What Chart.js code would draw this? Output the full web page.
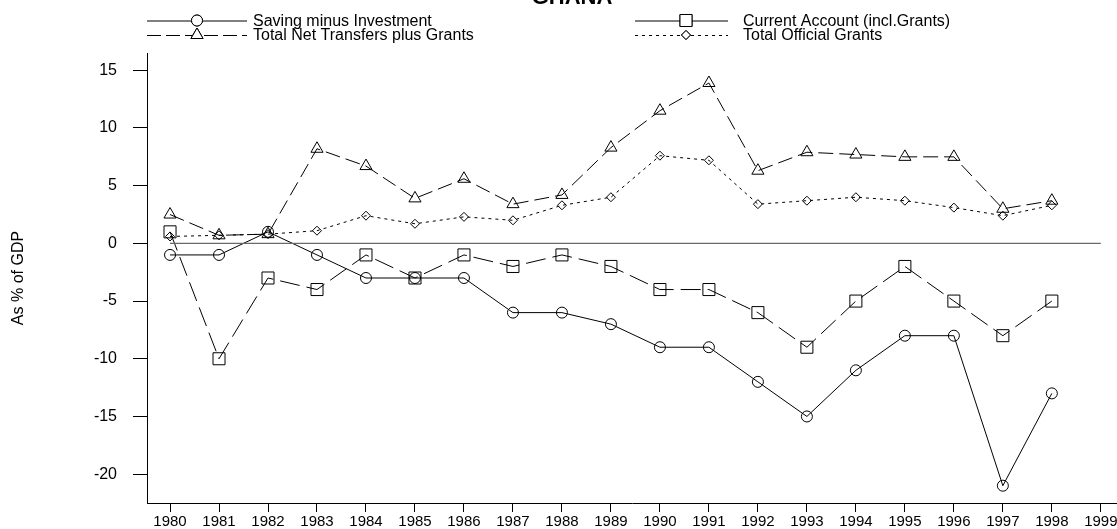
<!DOCTYPE html>
<html>
<head>
<meta charset="utf-8">
<script src="https://cdn.jsdelivr.net/npm/chart.js@4.4.1/dist/chart.umd.min.js"></script>
<style>
    html, body { margin: 0; padding: 0; background: #fff; }
    #wrap { width: 1117px; height: 529px; }
</style>
</head>
<body>
<div id="wrap"><canvas id="ghanaChart" width="1117" height="529"></canvas></div>
<script>
// Data (as % of GDP)
const years = [1980, 1981, 1982, 1983, 1984, 1985, 1986, 1987, 1988, 1989,
               1990, 1991, 1992, 1993, 1994, 1995, 1996, 1997, 1998];
const savingMinusInvestment = [-1, -1, 1, -1, -3, -3, -3, -6, -6, -7, -9, -9, -12, -15, -11, -8, -8, -21, -13];
const currentAccount = [1, -10, -3, -4, -1, -3, -1, -2, -1, -2, -4, -4, -6, -9, -5, -2, -5, -8, -5];
const netTransfersPlusGrants = [2.5, 0.7, 0.8, 8.2, 6.7, 3.9, 5.6, 3.4, 4.2, 8.3, 11.5, 13.9, 6.3, 7.9, 7.7, 7.5, 7.5, 3.0, 3.7];
const officialGrants = [0.6, 0.7, 0.8, 1.1, 2.4, 1.7, 2.3, 2.0, 3.3, 4.0, 7.6, 7.2, 3.4, 3.7, 4.0, 3.7, 3.1, 2.4, 3.3];

// reference line at zero runs across all labelled years
const zeroLineYears = [1980, 1999];
const zeroLineValues = [0, 0];

const xTickYears = [1980, 1981, 1982, 1983, 1984, 1985, 1986, 1987, 1988, 1989,
                    1990, 1991, 1992, 1993, 1994, 1995, 1996, 1997, 1998, 1999];
const yTickValues = [-20, -15, -10, -5, 0, 5, 10, 15];

const FONT = '"Liberation Sans", Arial, Helvetica, sans-serif';
Chart.defaults.font.family = FONT;
Chart.defaults.color = '#000';

function toPoints(xs, ys) {
    return xs.map((x, i) => ({ x: x, y: ys[i] }));
}

function seriesStyle(label, values, style) {
    return Object.assign({
        label: label,
        data: toPoints(years, values),
        borderColor: '#000',
        borderWidth: 1,
        pointBorderColor: '#000',
        pointBackgroundColor: 'rgba(0,0,0,0)',
        pointBorderWidth: 1,
        tension: 0,
        fill: false
    }, style);
}

const datasets = [
    {
        label: 'zero',
        data: toPoints(zeroLineYears, zeroLineValues),
        borderColor: '#6a6a6a',
        borderWidth: 1.3,
        pointRadius: 0,
        fill: false
    },
    seriesStyle('Saving minus Investment', savingMinusInvestment, {
        pointStyle: 'circle', pointRadius: 5.5,
        legend: { col: 0, row: 0, dash: [] }
    }),
    seriesStyle('Current Account (incl.Grants)', currentAccount, {
        borderDash: [20, 7],
        pointStyle: 'rect', pointRadius: 8.5,
        legend: { col: 1, row: 0, dash: [] }
    }),
    seriesStyle('Total Net Transfers plus Grants', netTransfersPlusGrants, {
        borderDash: [15, 6],
        pointStyle: 'triangle', pointRadius: 7,
        legend: { col: 0, row: 1, dash: [14, 5] }
    }),
    seriesStyle('Total Official Grants', officialGrants, {
        borderDash: [3, 4],
        pointStyle: 'rectRot', pointRadius: 4.5,
        legend: { col: 1, row: 1, dash: [3, 4] }
    })
];

// Title + legend drawn in the header strip above the plot
const headerPlugin = {
    id: 'header',
    afterDraw(chart, args, opts) {
        const ctx = chart.ctx;
        ctx.save();
        ctx.fillStyle = '#000';
        ctx.font = 'bold 22px ' + FONT;
        ctx.textAlign = 'center';
        ctx.textBaseline = 'alphabetic';
        ctx.fillText(opts.title, 572, 4);

        const cols = [
            { x0: 147, x1: 247, mark: 197, text: 253 },
            { x0: 635, x1: 728, mark: 686, text: 743 }
        ];
        const rows = [20.5, 35];
        ctx.font = '16px ' + FONT;
        ctx.textAlign = 'left';
        ctx.textBaseline = 'middle';
        chart.data.datasets.forEach(ds => {
            if (!ds.legend) return;
            const c = cols[ds.legend.col];
            const y = rows[ds.legend.row];
            ctx.strokeStyle = '#000';
            ctx.lineWidth = 1;
            ctx.setLineDash(ds.legend.dash);
            ctx.beginPath();
            ctx.moveTo(c.x0, y + 0.5);
            ctx.lineTo(c.x1, y + 0.5);
            ctx.stroke();
            ctx.setLineDash([]);
            Chart.helpers.drawPoint(ctx, {
                pointStyle: ds.pointStyle,
                radius: ds.pointRadius,
                rotation: 0,
                borderWidth: 1
            }, c.mark, y);
            ctx.fillStyle = '#fff';
            ctx.fill();
            ctx.stroke();
            ctx.fillStyle = '#000';
            ctx.fillText(ds.label, c.text, y + 1);
        });
        ctx.restore();
    }
};

const ctx = document.getElementById('ghanaChart').getContext('2d');
const ghanaChart = new Chart(ctx, {
    type: 'line',
    data: { datasets: datasets },
    plugins: [headerPlugin],
    options: {
        responsive: false,
        animation: false,
        devicePixelRatio: 1,
        layout: {
            autoPadding: false,
            padding: { top: 53, left: 0, right: 0, bottom: 0 }
        },
        plugins: {
            legend: { display: false },
            title: { display: false },
            tooltip: { enabled: false },
            header: { title: 'GHANA' }
        },
        scales: {
            x: {
                type: 'linear',
                position: 'bottom',
                min: 1979.53,
                max: 1999.33,
                grid: {
                    drawOnChartArea: false,
                    drawTicks: true,
                    tickLength: 9,
                    tickColor: '#000'
                },
                border: { display: true, color: '#000', width: 1 },
                ticks: {
                    autoSkip: false,
                    maxRotation: 0,
                    padding: 1,
                    color: '#000',
                    font: { size: 15 },
                    callback: v => String(v)
                },
                afterBuildTicks: axis => {
                    axis.ticks = xTickYears.map(v => ({ value: v }));
                },
                afterFit: axis => {
                    axis.height = 26;
                    axis.paddingLeft = 0;
                    axis.paddingRight = 0;
                }
            },
            y: {
                type: 'linear',
                position: 'left',
                min: -22.5,
                max: 16.5,
                grid: {
                    drawOnChartArea: false,
                    drawTicks: true,
                    tickLength: 14,
                    tickColor: '#000'
                },
                border: { display: true, color: '#000', width: 1 },
                ticks: {
                    padding: 16,
                    color: '#000',
                    font: { size: 16 }
                },
                title: {
                    display: true,
                    text: 'As % of GDP',
                    color: '#000',
                    font: { size: 16 },
                    padding: { top: 9, bottom: 0 }
                },
                afterBuildTicks: axis => {
                    axis.ticks = yTickValues.map(v => ({ value: v }));
                },
                afterFit: axis => {
                    axis.width = 147;
                    axis.paddingTop = 0;
                    axis.paddingBottom = 0;
                }
            }
        }
    }
});
</script>
</body>
</html>
